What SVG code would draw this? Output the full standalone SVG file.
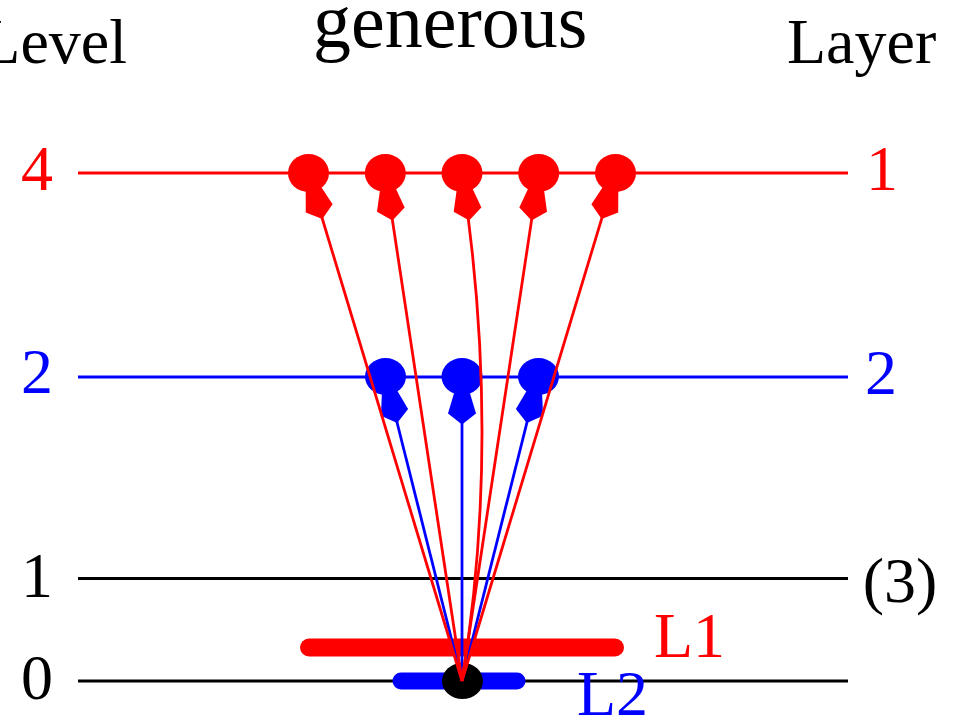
<svg xmlns="http://www.w3.org/2000/svg" xmlns:xlink="http://www.w3.org/1999/xlink" width="956" height="720" viewBox="0 0 956 720">
<style>
text{font-family:"Liberation Serif","Times New Roman",serif;font-size:64px}
.red{fill:#ff0000}
.blue{fill:#0000ff}
.blk{fill:#000}
.lvl{stroke-width:2.8;fill:none}
.conn-r{stroke:#ff0000;stroke-width:2.8;fill:none}
.conn-b{stroke:#0000ff;stroke-width:2.8;fill:none}
.mid{text-anchor:middle}
</style>
<defs>
<path id="kite" d="M-4.5,5 L-14,37 L0,48 L14,37 L4.5,5 Z"/>
</defs>

<g id="levels">
<line class="lvl" x1="78" y1="173" x2="848" y2="173" stroke="#ff0000"/>
<line class="lvl" x1="78" y1="377" x2="848" y2="377" stroke="#0000ff"/>
<line class="lvl" x1="78" y1="578.5" x2="848" y2="578.5" stroke="#000" stroke-width="3.2"/>
<line class="lvl" x1="78" y1="681" x2="848" y2="681" stroke="#000" stroke-width="3.2"/>
</g>

<g id="L1-bar"><line x1="309" y1="647.5" x2="615" y2="647.5" stroke="#ff0000" stroke-width="18" stroke-linecap="round"/></g>
<g id="L2-bar"><line x1="401" y1="681" x2="517" y2="681" stroke="#0000ff" stroke-width="17" stroke-linecap="round"/></g>
<g id="origin"><ellipse cx="462.5" cy="681" rx="20.5" ry="18" class="blk"/></g>

<g id="b1" class="blue"><ellipse cx="385.5" cy="376.5" rx="20.5" ry="18.5"/><use xlink:href="#kite" transform="translate(385.5,376.5) rotate(-14.1)"/></g>
<g id="b2" class="blue"><ellipse cx="462" cy="376.5" rx="20.5" ry="18.5"/><use xlink:href="#kite" transform="translate(462,376.5)"/></g>
<g id="b3" class="blue"><ellipse cx="538.5" cy="376.5" rx="20.5" ry="18.5"/><use xlink:href="#kite" transform="translate(538.5,376.5) rotate(14.1)"/></g>

<g id="connectors">
<line class="conn-b" x1="462" y1="681" x2="385.5" y2="376.5"/>
<line class="conn-b" x1="462" y1="681" x2="462" y2="376.5"/>
<line class="conn-b" x1="462" y1="681" x2="538.5" y2="376.5"/>
<line class="conn-r" x1="462" y1="681" x2="308.5" y2="173"/>
<line class="conn-r" x1="462" y1="681" x2="385.3" y2="173"/>
<path class="conn-r" d="M462,681 Q502,437 462,173"/>
<line class="conn-r" x1="462" y1="681" x2="538.7" y2="173"/>
<line class="conn-r" x1="462" y1="681" x2="615.5" y2="173"/>
</g>

<g id="r1" class="red"><ellipse cx="308.5" cy="173" rx="20.5" ry="19"/><use xlink:href="#kite" transform="translate(308.5,173) rotate(-16.8)"/></g>
<g id="r2" class="red"><ellipse cx="385.3" cy="173" rx="20.5" ry="19"/><use xlink:href="#kite" transform="translate(385.3,173) rotate(-8.6)"/></g>
<g id="r3" class="red"><ellipse cx="462" cy="173" rx="20.5" ry="19"/><use xlink:href="#kite" transform="translate(462,173) rotate(-8.6)"/></g>
<g id="r4" class="red"><ellipse cx="538.7" cy="173" rx="20.5" ry="19"/><use xlink:href="#kite" transform="translate(538.7,173) rotate(8.6)"/></g>
<g id="r5" class="red"><ellipse cx="615.5" cy="173" rx="20.5" ry="19"/><use xlink:href="#kite" transform="translate(615.5,173) rotate(16.8)"/></g>

<g id="labels">
<text x="127" y="63" text-anchor="end" class="blk">Level</text>
<text x="313" y="47" class="blk" style="font-size:76px">generous</text>
<text x="787" y="63" class="blk">Layer</text>
<text x="37" y="190" class="red mid">4</text>
<text x="37" y="393" class="blue mid">2</text>
<text x="37" y="597" class="blk mid">1</text>
<text x="37" y="699" class="blk mid">0</text>
<text x="882" y="190" class="red mid">1</text>
<text x="881" y="394" class="blue mid">2</text>
<text x="900" y="602" class="blk mid">(3)</text>
<text x="654" y="657" class="red">L1</text>
<text x="577" y="715" class="blue">L2</text>
</g>
</svg>
